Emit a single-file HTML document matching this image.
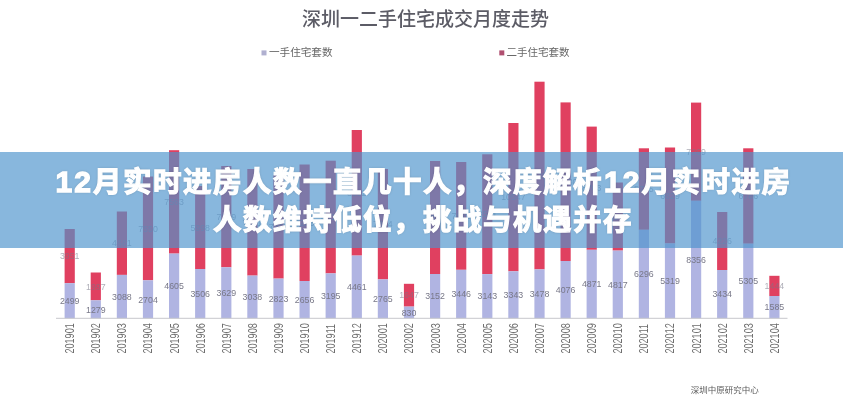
<!DOCTYPE html>
<html lang="zh-CN">
<head>
<meta charset="utf-8">
<title>12月实时进房人数一直几十人</title>
<style>
html,body{margin:0;padding:0;background:#fff;}
body{width:843px;height:400px;overflow:hidden;position:relative;font-family:"Liberation Sans","Noto Sans CJK SC",sans-serif;}
#chart{position:absolute;left:0;top:0;width:843px;height:400px;display:block;}
#band{position:absolute;left:0;top:152px;width:843px;height:96px;background:rgba(77,148,204,0.67);}
#ttl{position:absolute;left:0;top:152px;width:843px;height:96px;box-sizing:border-box;padding-top:10.5px;padding-left:3px;text-align:center;color:#fff;font-weight:700;font-size:28.5px;letter-spacing:1.5px;-webkit-text-stroke:1.2px #fff;line-height:38px;text-shadow:0 0 3px rgba(0,0,0,0.25);}
#ttl .d{font-size:30px;letter-spacing:2.1px;margin-left:1px;-webkit-text-stroke:1.3px #fff;}
</style>
</head>
<body>
<svg id="chart" width="843" height="400" viewBox="0 0 843 400">
<defs><filter id="soft" x="-2%" y="-2%" width="104%" height="104%"><feGaussianBlur stdDeviation="0.55"/></filter></defs>
<rect width="843" height="400" fill="#ffffff"/>
<g filter="url(#soft)">
<text x="425.5" y="26" text-anchor="middle" font-size="19" font-weight="500" fill="#5c5c66" font-family="'Liberation Sans','Noto Sans CJK SC',sans-serif">深圳一二手住宅成交月度走势</text>
<rect x="261.5" y="50.4" width="5" height="5" fill="#b0b0d0"/>
<text x="269" y="56" font-size="10.6" fill="#686868" font-family="'Liberation Sans','Noto Sans CJK SC',sans-serif">一手住宅套数</text>
<rect x="499.3" y="50.4" width="5" height="5" fill="#b05070"/>
<text x="506.6" y="56" font-size="10.5" fill="#686868" font-family="'Liberation Sans','Noto Sans CJK SC',sans-serif">二手住宅套数</text>

<rect x="64.6" y="229.0" width="10.2" height="54.2" fill="#e04060"/>
<rect x="64.6" y="283.2" width="10.2" height="35.1" fill="#b0b4e2"/>
<rect x="90.7" y="272.5" width="10.2" height="27.8" fill="#e04060"/>
<rect x="90.7" y="300.3" width="10.2" height="18.0" fill="#b0b4e2"/>
<rect x="116.8" y="211.5" width="10.2" height="63.4" fill="#e04060"/>
<rect x="116.8" y="274.9" width="10.2" height="43.4" fill="#b0b4e2"/>
<rect x="142.9" y="176.5" width="10.2" height="103.8" fill="#e04060"/>
<rect x="142.9" y="280.3" width="10.2" height="38.0" fill="#b0b4e2"/>
<rect x="169.0" y="150.2" width="10.2" height="103.4" fill="#e04060"/>
<rect x="169.0" y="253.6" width="10.2" height="64.7" fill="#b0b4e2"/>
<rect x="195.1" y="186.0" width="10.2" height="83.0" fill="#e04060"/>
<rect x="195.1" y="269.0" width="10.2" height="49.3" fill="#b0b4e2"/>
<rect x="221.2" y="166.0" width="10.2" height="101.3" fill="#e04060"/>
<rect x="221.2" y="267.3" width="10.2" height="51.0" fill="#b0b4e2"/>
<rect x="247.3" y="169.0" width="10.2" height="106.6" fill="#e04060"/>
<rect x="247.3" y="275.6" width="10.2" height="42.7" fill="#b0b4e2"/>
<rect x="273.4" y="175.0" width="10.2" height="103.6" fill="#e04060"/>
<rect x="273.4" y="278.6" width="10.2" height="39.7" fill="#b0b4e2"/>
<rect x="299.5" y="164.5" width="10.2" height="116.5" fill="#e04060"/>
<rect x="299.5" y="281.0" width="10.2" height="37.3" fill="#b0b4e2"/>
<rect x="325.6" y="160.7" width="10.2" height="112.7" fill="#e04060"/>
<rect x="325.6" y="273.4" width="10.2" height="44.9" fill="#b0b4e2"/>
<rect x="351.7" y="130.0" width="10.2" height="125.6" fill="#e04060"/>
<rect x="351.7" y="255.6" width="10.2" height="62.7" fill="#b0b4e2"/>
<rect x="377.8" y="169.0" width="10.2" height="110.4" fill="#e04060"/>
<rect x="377.8" y="279.4" width="10.2" height="38.9" fill="#b0b4e2"/>
<rect x="403.9" y="283.8" width="10.2" height="22.8" fill="#e04060"/>
<rect x="403.9" y="306.6" width="10.2" height="11.7" fill="#b0b4e2"/>
<rect x="430.0" y="161.0" width="10.2" height="113.0" fill="#e04060"/>
<rect x="430.0" y="274.0" width="10.2" height="44.3" fill="#b0b4e2"/>
<rect x="456.1" y="162.0" width="10.2" height="107.8" fill="#e04060"/>
<rect x="456.1" y="269.8" width="10.2" height="48.5" fill="#b0b4e2"/>
<rect x="482.2" y="154.3" width="10.2" height="119.8" fill="#e04060"/>
<rect x="482.2" y="274.1" width="10.2" height="44.2" fill="#b0b4e2"/>
<rect x="508.3" y="123.0" width="10.2" height="148.3" fill="#e04060"/>
<rect x="508.3" y="271.3" width="10.2" height="47.0" fill="#b0b4e2"/>
<rect x="534.4" y="81.7" width="10.2" height="187.7" fill="#e04060"/>
<rect x="534.4" y="269.4" width="10.2" height="48.9" fill="#b0b4e2"/>
<rect x="560.5" y="102.4" width="10.2" height="158.6" fill="#e04060"/>
<rect x="560.5" y="261.0" width="10.2" height="57.3" fill="#b0b4e2"/>
<rect x="586.6" y="126.6" width="10.2" height="123.2" fill="#e04060"/>
<rect x="586.6" y="249.8" width="10.2" height="68.5" fill="#b0b4e2"/>
<rect x="612.7" y="182.5" width="10.2" height="68.1" fill="#e04060"/>
<rect x="612.7" y="250.6" width="10.2" height="67.7" fill="#b0b4e2"/>
<rect x="638.8" y="148.3" width="10.2" height="81.5" fill="#e04060"/>
<rect x="638.8" y="229.8" width="10.2" height="88.5" fill="#b0b4e2"/>
<rect x="664.9" y="147.5" width="10.2" height="96.0" fill="#e04060"/>
<rect x="664.9" y="243.5" width="10.2" height="74.8" fill="#b0b4e2"/>
<rect x="691.0" y="102.6" width="10.2" height="98.2" fill="#e04060"/>
<rect x="691.0" y="200.8" width="10.2" height="117.5" fill="#b0b4e2"/>
<rect x="717.1" y="212.0" width="10.2" height="58.0" fill="#e04060"/>
<rect x="717.1" y="270.0" width="10.2" height="48.3" fill="#b0b4e2"/>
<rect x="743.2" y="148.3" width="10.2" height="95.4" fill="#e04060"/>
<rect x="743.2" y="243.7" width="10.2" height="74.6" fill="#b0b4e2"/>
<rect x="769.3" y="275.8" width="10.2" height="20.2" fill="#e04060"/>
<rect x="769.3" y="296.0" width="10.2" height="22.3" fill="#b0b4e2"/>
<rect x="56" y="317.8" width="731.5" height="1" fill="#c8c8cc"/>
<text x="69.7" y="303.9" text-anchor="middle" font-size="8.8" fill="#787888" font-family="'Liberation Sans',sans-serif">2499</text>
<text x="69.7" y="259.3" text-anchor="middle" font-size="8.8" fill="#787888" opacity="0.6" font-family="'Liberation Sans',sans-serif">3951</text>
<text transform="translate(74.1,353.6) rotate(-90) scale(0.735,1)" font-size="12.4" fill="#6e6e6e" font-family="'Liberation Sans',sans-serif">201901</text>
<text x="95.8" y="312.5" text-anchor="middle" font-size="8.8" fill="#787888" font-family="'Liberation Sans',sans-serif">1279</text>
<text x="95.8" y="289.6" text-anchor="middle" font-size="8.8" fill="#787888" opacity="0.6" font-family="'Liberation Sans',sans-serif">1997</text>
<text transform="translate(100.2,353.6) rotate(-90) scale(0.735,1)" font-size="12.4" fill="#6e6e6e" font-family="'Liberation Sans',sans-serif">201902</text>
<text x="121.9" y="299.8" text-anchor="middle" font-size="8.8" fill="#787888" font-family="'Liberation Sans',sans-serif">3088</text>
<text x="121.9" y="246.4" text-anchor="middle" font-size="8.8" fill="#787888" opacity="0.6" font-family="'Liberation Sans',sans-serif">4681</text>
<text transform="translate(126.3,353.6) rotate(-90) scale(0.735,1)" font-size="12.4" fill="#6e6e6e" font-family="'Liberation Sans',sans-serif">201903</text>
<text x="148.0" y="302.5" text-anchor="middle" font-size="8.8" fill="#787888" font-family="'Liberation Sans',sans-serif">2704</text>
<text x="148.0" y="231.6" text-anchor="middle" font-size="8.8" fill="#787888" opacity="0.6" font-family="'Liberation Sans',sans-serif">7550</text>
<text transform="translate(152.4,353.6) rotate(-90) scale(0.735,1)" font-size="12.4" fill="#6e6e6e" font-family="'Liberation Sans',sans-serif">201904</text>
<text x="174.1" y="289.1" text-anchor="middle" font-size="8.8" fill="#787888" font-family="'Liberation Sans',sans-serif">4605</text>
<text x="174.1" y="205.1" text-anchor="middle" font-size="8.8" fill="#787888" opacity="0.6" font-family="'Liberation Sans',sans-serif">7563</text>
<text transform="translate(178.5,353.6) rotate(-90) scale(0.735,1)" font-size="12.4" fill="#6e6e6e" font-family="'Liberation Sans',sans-serif">201905</text>
<text x="200.2" y="296.9" text-anchor="middle" font-size="8.8" fill="#787888" font-family="'Liberation Sans',sans-serif">3506</text>
<text x="200.2" y="230.7" text-anchor="middle" font-size="8.8" fill="#787888" opacity="0.6" font-family="'Liberation Sans',sans-serif">5998</text>
<text transform="translate(204.6,353.6) rotate(-90) scale(0.735,1)" font-size="12.4" fill="#6e6e6e" font-family="'Liberation Sans',sans-serif">201906</text>
<text x="226.3" y="296.0" text-anchor="middle" font-size="8.8" fill="#787888" font-family="'Liberation Sans',sans-serif">3629</text>
<text x="226.3" y="219.8" text-anchor="middle" font-size="8.8" fill="#787888" opacity="0.6" font-family="'Liberation Sans',sans-serif">7389</text>
<text transform="translate(230.7,353.6) rotate(-90) scale(0.735,1)" font-size="12.4" fill="#6e6e6e" font-family="'Liberation Sans',sans-serif">201907</text>
<text x="252.4" y="300.1" text-anchor="middle" font-size="8.8" fill="#787888" font-family="'Liberation Sans',sans-serif">3038</text>
<text x="252.4" y="225.5" text-anchor="middle" font-size="8.8" fill="#787888" opacity="0.6" font-family="'Liberation Sans',sans-serif">7581</text>
<text transform="translate(256.8,353.6) rotate(-90) scale(0.735,1)" font-size="12.4" fill="#6e6e6e" font-family="'Liberation Sans',sans-serif">201908</text>
<text x="278.5" y="301.7" text-anchor="middle" font-size="8.8" fill="#787888" font-family="'Liberation Sans',sans-serif">2823</text>
<text x="278.5" y="230.0" text-anchor="middle" font-size="8.8" fill="#787888" opacity="0.6" font-family="'Liberation Sans',sans-serif">7369</text>
<text transform="translate(282.9,353.6) rotate(-90) scale(0.735,1)" font-size="12.4" fill="#6e6e6e" font-family="'Liberation Sans',sans-serif">201909</text>
<text x="304.6" y="302.8" text-anchor="middle" font-size="8.8" fill="#787888" font-family="'Liberation Sans',sans-serif">2656</text>
<text x="304.6" y="225.9" text-anchor="middle" font-size="8.8" fill="#787888" opacity="0.6" font-family="'Liberation Sans',sans-serif">8283</text>
<text transform="translate(309.0,353.6) rotate(-90) scale(0.735,1)" font-size="12.4" fill="#6e6e6e" font-family="'Liberation Sans',sans-serif">201910</text>
<text x="330.7" y="299.0" text-anchor="middle" font-size="8.8" fill="#787888" font-family="'Liberation Sans',sans-serif">3195</text>
<text x="330.7" y="220.2" text-anchor="middle" font-size="8.8" fill="#787888" opacity="0.6" font-family="'Liberation Sans',sans-serif">8014</text>
<text transform="translate(335.1,353.6) rotate(-90) scale(0.735,1)" font-size="12.4" fill="#6e6e6e" font-family="'Liberation Sans',sans-serif">201911</text>
<text x="356.8" y="290.1" text-anchor="middle" font-size="8.8" fill="#787888" font-family="'Liberation Sans',sans-serif">4461</text>
<text x="356.8" y="196.0" text-anchor="middle" font-size="8.8" fill="#787888" opacity="0.6" font-family="'Liberation Sans',sans-serif">8932</text>
<text transform="translate(361.2,353.6) rotate(-90) scale(0.735,1)" font-size="12.4" fill="#6e6e6e" font-family="'Liberation Sans',sans-serif">201912</text>
<text x="382.9" y="302.1" text-anchor="middle" font-size="8.8" fill="#787888" font-family="'Liberation Sans',sans-serif">2765</text>
<text x="382.9" y="227.4" text-anchor="middle" font-size="8.8" fill="#787888" opacity="0.6" font-family="'Liberation Sans',sans-serif">7854</text>
<text transform="translate(387.3,353.6) rotate(-90) scale(0.735,1)" font-size="12.4" fill="#6e6e6e" font-family="'Liberation Sans',sans-serif">202001</text>
<text x="409.0" y="315.7" text-anchor="middle" font-size="8.8" fill="#787888" font-family="'Liberation Sans',sans-serif">830</text>
<text x="409.0" y="298.4" text-anchor="middle" font-size="8.8" fill="#787888" opacity="0.6" font-family="'Liberation Sans',sans-serif">1647</text>
<text transform="translate(413.4,353.6) rotate(-90) scale(0.735,1)" font-size="12.4" fill="#6e6e6e" font-family="'Liberation Sans',sans-serif">202002</text>
<text x="435.1" y="299.3" text-anchor="middle" font-size="8.8" fill="#787888" font-family="'Liberation Sans',sans-serif">3152</text>
<text x="435.1" y="220.7" text-anchor="middle" font-size="8.8" fill="#787888" opacity="0.6" font-family="'Liberation Sans',sans-serif">8036</text>
<text transform="translate(439.5,353.6) rotate(-90) scale(0.735,1)" font-size="12.4" fill="#6e6e6e" font-family="'Liberation Sans',sans-serif">202003</text>
<text x="461.2" y="297.3" text-anchor="middle" font-size="8.8" fill="#787888" font-family="'Liberation Sans',sans-serif">3446</text>
<text x="461.2" y="219.1" text-anchor="middle" font-size="8.8" fill="#787888" opacity="0.6" font-family="'Liberation Sans',sans-serif">7671</text>
<text transform="translate(465.6,353.6) rotate(-90) scale(0.735,1)" font-size="12.4" fill="#6e6e6e" font-family="'Liberation Sans',sans-serif">202004</text>
<text x="487.3" y="299.4" text-anchor="middle" font-size="8.8" fill="#787888" font-family="'Liberation Sans',sans-serif">3143</text>
<text x="487.3" y="217.4" text-anchor="middle" font-size="8.8" fill="#787888" opacity="0.6" font-family="'Liberation Sans',sans-serif">8521</text>
<text transform="translate(491.7,353.6) rotate(-90) scale(0.735,1)" font-size="12.4" fill="#6e6e6e" font-family="'Liberation Sans',sans-serif">202005</text>
<text x="513.4" y="298.0" text-anchor="middle" font-size="8.8" fill="#787888" font-family="'Liberation Sans',sans-serif">3343</text>
<text x="513.4" y="200.3" text-anchor="middle" font-size="8.8" fill="#787888" opacity="0.6" font-family="'Liberation Sans',sans-serif">10547</text>
<text transform="translate(517.8,353.6) rotate(-90) scale(0.735,1)" font-size="12.4" fill="#6e6e6e" font-family="'Liberation Sans',sans-serif">202006</text>
<text x="539.5" y="297.0" text-anchor="middle" font-size="8.8" fill="#787888" font-family="'Liberation Sans',sans-serif">3478</text>
<text x="539.5" y="178.7" text-anchor="middle" font-size="8.8" fill="#787888" opacity="0.6" font-family="'Liberation Sans',sans-serif">13350</text>
<text transform="translate(543.9,353.6) rotate(-90) scale(0.735,1)" font-size="12.4" fill="#6e6e6e" font-family="'Liberation Sans',sans-serif">202007</text>
<text x="565.6" y="292.8" text-anchor="middle" font-size="8.8" fill="#787888" font-family="'Liberation Sans',sans-serif">4076</text>
<text x="565.6" y="184.9" text-anchor="middle" font-size="8.8" fill="#787888" opacity="0.6" font-family="'Liberation Sans',sans-serif">11280</text>
<text transform="translate(570.0,353.6) rotate(-90) scale(0.735,1)" font-size="12.4" fill="#6e6e6e" font-family="'Liberation Sans',sans-serif">202008</text>
<text x="591.7" y="287.3" text-anchor="middle" font-size="8.8" fill="#787888" font-family="'Liberation Sans',sans-serif">4871</text>
<text x="591.7" y="191.4" text-anchor="middle" font-size="8.8" fill="#787888" opacity="0.6" font-family="'Liberation Sans',sans-serif">8763</text>
<text transform="translate(596.1,353.6) rotate(-90) scale(0.735,1)" font-size="12.4" fill="#6e6e6e" font-family="'Liberation Sans',sans-serif">202009</text>
<text x="617.8" y="287.6" text-anchor="middle" font-size="8.8" fill="#787888" font-family="'Liberation Sans',sans-serif">4817</text>
<text x="617.8" y="219.7" text-anchor="middle" font-size="8.8" fill="#787888" opacity="0.6" font-family="'Liberation Sans',sans-serif">4842</text>
<text transform="translate(622.2,353.6) rotate(-90) scale(0.735,1)" font-size="12.4" fill="#6e6e6e" font-family="'Liberation Sans',sans-serif">202010</text>
<text x="643.9" y="277.2" text-anchor="middle" font-size="8.8" fill="#787888" font-family="'Liberation Sans',sans-serif">6296</text>
<text x="643.9" y="192.2" text-anchor="middle" font-size="8.8" fill="#787888" opacity="0.6" font-family="'Liberation Sans',sans-serif">5795</text>
<text transform="translate(648.3,353.6) rotate(-90) scale(0.735,1)" font-size="12.4" fill="#6e6e6e" font-family="'Liberation Sans',sans-serif">202011</text>
<text x="670.0" y="284.1" text-anchor="middle" font-size="8.8" fill="#787888" font-family="'Liberation Sans',sans-serif">5319</text>
<text x="670.0" y="198.7" text-anchor="middle" font-size="8.8" fill="#787888" opacity="0.6" font-family="'Liberation Sans',sans-serif">6829</text>
<text transform="translate(674.4,353.6) rotate(-90) scale(0.735,1)" font-size="12.4" fill="#6e6e6e" font-family="'Liberation Sans',sans-serif">202012</text>
<text x="696.1" y="262.8" text-anchor="middle" font-size="8.8" fill="#787888" font-family="'Liberation Sans',sans-serif">8356</text>
<text x="696.1" y="154.9" text-anchor="middle" font-size="8.8" fill="#787888" opacity="0.6" font-family="'Liberation Sans',sans-serif">7269</text>
<text transform="translate(700.5,353.6) rotate(-90) scale(0.735,1)" font-size="12.4" fill="#6e6e6e" font-family="'Liberation Sans',sans-serif">202101</text>
<text x="722.2" y="297.4" text-anchor="middle" font-size="8.8" fill="#787888" font-family="'Liberation Sans',sans-serif">3434</text>
<text x="722.2" y="244.2" text-anchor="middle" font-size="8.8" fill="#787888" opacity="0.6" font-family="'Liberation Sans',sans-serif">4226</text>
<text transform="translate(726.6,353.6) rotate(-90) scale(0.735,1)" font-size="12.4" fill="#6e6e6e" font-family="'Liberation Sans',sans-serif">202102</text>
<text x="748.3" y="284.2" text-anchor="middle" font-size="8.8" fill="#787888" font-family="'Liberation Sans',sans-serif">5305</text>
<text x="748.3" y="199.2" text-anchor="middle" font-size="8.8" fill="#787888" opacity="0.6" font-family="'Liberation Sans',sans-serif">6786</text>
<text transform="translate(752.7,353.6) rotate(-90) scale(0.735,1)" font-size="12.4" fill="#6e6e6e" font-family="'Liberation Sans',sans-serif">202103</text>
<text x="774.4" y="310.4" text-anchor="middle" font-size="8.8" fill="#787888" font-family="'Liberation Sans',sans-serif">1585</text>
<text x="774.4" y="289.1" text-anchor="middle" font-size="8.8" fill="#787888" opacity="0.6" font-family="'Liberation Sans',sans-serif">1444</text>
<text transform="translate(778.8,353.6) rotate(-90) scale(0.735,1)" font-size="12.4" fill="#6e6e6e" font-family="'Liberation Sans',sans-serif">202104</text>
<text x="690.7" y="393" font-size="8.5" fill="#5a5a5a" font-family="'Liberation Sans','Noto Sans CJK SC',sans-serif">深圳中原研究中心</text>
</g>
</svg>
<div id="band"></div>
<div id="ttl"><span class="d">12</span>月实时进房人数一直几十人，深度解析<span class="d">12</span>月实时进房<br>人数维持低位，挑战与机遇并存</div>
</body>
</html>
